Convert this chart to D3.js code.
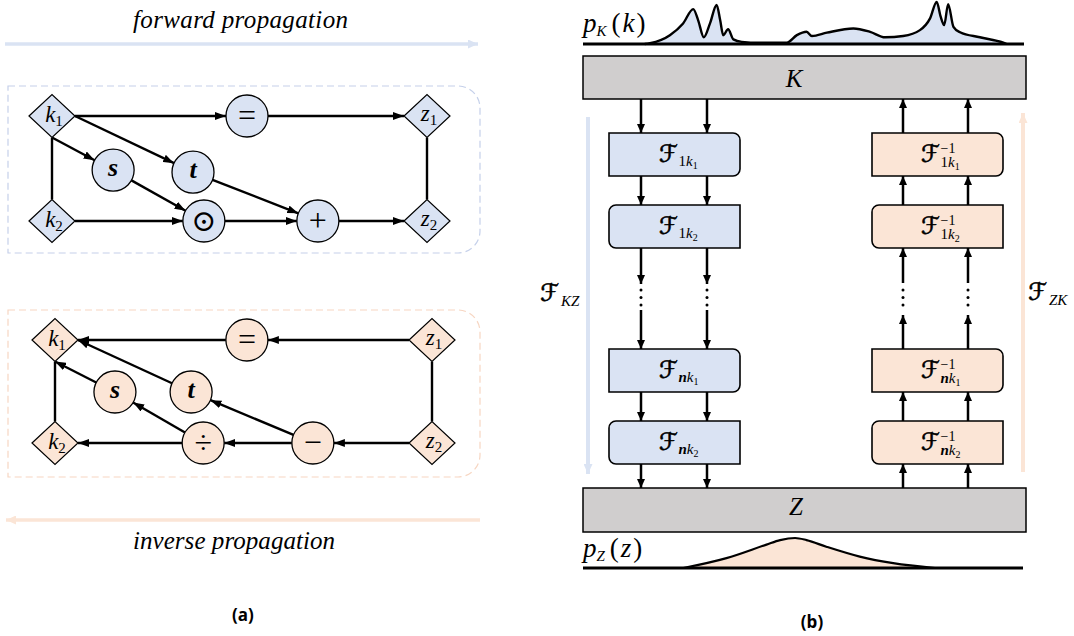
<!DOCTYPE html>
<html><head><meta charset="utf-8">
<script src="https://cdn.jsdelivr.net/npm/d3@7"></script>
<style>body{margin:0;background:#fff}svg{display:block}
.serif{font-family:"Liberation Serif","Times New Roman","DejaVu Serif","Noto Serif",serif}
.script{font-family:"DejaVu Serif","DejaVu Sans",serif}
.lbl{font-family:"Open Sans","Lato",sans-serif;font-weight:bold}
</style>
</head><body>
<svg id="c" width="1074" height="636"></svg>
<script>
// ---------------- data ----------------
const forwardNodes = [
  {id:"k1", shape:"diamond", txt:"k", sub:"1", gx:0, gy:0},
  {id:"k2", shape:"diamond", txt:"k", sub:"2", gx:0, gy:2},
  {id:"z1", shape:"diamond", txt:"z", sub:"1", gx:100, gy:0},
  {id:"z2", shape:"diamond", txt:"z", sub:"2", gx:100, gy:2},
  {id:"eq", shape:"circle", txt:"=", gx:52, gy:0},
  {id:"s", shape:"circle", txt:"s", italic:true, gx:16.3, gy:1.03},
  {id:"t", shape:"circle", txt:"t", italic:true, gx:37.6, gy:1.07},
  {id:"dot", shape:"circle", txt:"\u2299", gx:40.5, gy:2},
  {id:"plus", shape:"circle", txt:"+", gx:70.9, gy:2}
];
const forwardEdges = [
  ["k1","right","eq",null,true],["eq",null,"z1","left",true],
  ["k1","right","t",null,true],["k1","bottom","s",null,true],
  ["k1","bottom","k2","top",false],["s",null,"dot",null,true],
  ["t",null,"plus",null,true],["k2","right","dot",null,true],
  ["dot",null,"plus",null,true],["plus",null,"z2","left",true],
  ["z1","bottom","z2","top",false]
];
const inverseNodes = [
  {id:"k1", shape:"diamond", txt:"k", sub:"1", gx:0, gy:0},
  {id:"k2", shape:"diamond", txt:"k", sub:"2", gx:0, gy:2},
  {id:"z1", shape:"diamond", txt:"z", sub:"1", gx:100, gy:0},
  {id:"z2", shape:"diamond", txt:"z", sub:"2", gx:100, gy:2},
  {id:"eq", shape:"circle", txt:"=", gx:50.9, gy:0},
  {id:"s", shape:"circle", txt:"s", italic:true, gx:15.9, gy:1.01},
  {id:"t", shape:"circle", txt:"t", italic:true, gx:36.1, gy:1.01},
  {id:"div", shape:"circle", txt:"\u00F7", gx:39.3, gy:2},
  {id:"minus", shape:"circle", txt:"\u2212", gx:68.4, gy:2}
];
const inverseEdges = [
  ["z1","left","eq",null,true],["eq",null,"k1","right",true],
  ["t",null,"k1","right",true],["s",null,"k1","bottom",true],
  ["k1","bottom","k2","top",false],["minus",null,"t",null,true],
  ["div",null,"s",null,true],["z2","left","minus",null,true],
  ["minus",null,"div",null,true],["div",null,"k2","right",true],
  ["z1","bottom","z2","top",false]
];
// flow layers (panel b)
const layerIndex = [0, 1, 3, 4];
const layerStep  = ["1", "1", "n", "n"];
const layerHalf  = ["1", "2", "1", "2"];
// density p_K(k): k in [0,100], density in [0,1]
const pkK = [14, 15.2, 19.7, 22.7, 25.0, 26.1, 27.4, 28.8, 30.3, 31.1, 31.8, 32.9, 34.1, 36.0, 40, 46.2, 48.5, 50.7, 51.9, 55.3, 61.3, 65.1, 68.5, 72.6, 76.4, 78.7, 80.2, 81.1, 81.9, 82.8, 84.0, 85.5, 90.0, 95.3, 96];
const pkD = [0, 0.02, 0.21, 0.49, 0.83, 0.57, 0.16, 0.49, 0.93, 0.57, 0.21, 0.35, 0.11, 0.05, 0.03, 0.03, 0.21, 0.29, 0.19, 0.27, 0.37, 0.29, 0.16, 0.19, 0.33, 0.61, 1.0, 0.65, 0.45, 0.95, 0.41, 0.28, 0.16, 0.03, 0];
// density p_Z(z)
const pzZ = [22.8, 32.6, 41.7, 44.8, 48.2, 50.8, 55.3, 62.9, 70.5, 80];
const pzD = [0, 0.33, 0.78, 0.93, 1.0, 0.93, 0.71, 0.38, 0.16, 0];

// ---------------- style ----------------
const BLUE = "#dae3f3", PEACH = "#fbe5d6", GREY = "#d0cece";

const svg = d3.select("#c");
const defs = svg.append("defs");
function marker(id, color, len, wid){
  defs.append("marker").attr("id", id).attr("markerUnits","userSpaceOnUse")
    .attr("viewBox", `0 0 ${len} ${wid}`).attr("refX", len).attr("refY", wid/2)
    .attr("markerWidth", len).attr("markerHeight", wid).attr("orient","auto")
    .append("path").attr("d", `M0,0L${len},${wid/2}L0,${wid}Z`).attr("fill", color);
}
marker("ah", "#000", 11, 8);
marker("ahs", "#000", 9, 8);
marker("ahB", BLUE, 10, 9);
marker("ahP", PEACH, 10, 9);

function line(g, x1, y1, x2, y2, opts){
  return g.append("path").attr("d", `M${x1},${y1}L${x2},${y2}`)
    .attr("stroke", opts.color || "#000").attr("stroke-width", opts.w || 2)
    .attr("fill","none").attr("marker-end", opts.marker ? `url(#${opts.marker})` : null);
}

// ---------------- panel (a) ----------------
function graph(nodes, edges, sx, sy, fill, dashColor, box){
  const g = svg.append("g");
  const A = 23, B = 21.5, R = 21;
  const [x0,y0,x1,y1] = box, r = 22;
  g.append("path").attr("d", `M${x0},${y0}H${x1-r}A${r},${r} 0 0 1 ${x1},${y0+r}V${y1-r}A${r},${r} 0 0 1 ${x1-r},${y1}H${x0}Z`)
    .attr("fill","none").attr("stroke", dashColor).attr("stroke-width",1.2).attr("stroke-dasharray","7,4");
  const byId = {};
  nodes.forEach(n => { n.x = sx(n.gx); n.y = sy(n.gy); byId[n.id] = n; });
  function port(n, p){
    if (p === "right") return [n.x + A, n.y];
    if (p === "left") return [n.x - A, n.y];
    if (p === "top") return [n.x, n.y - B];
    if (p === "bottom") return [n.x, n.y + B];
    return null;
  }
  edges.forEach(([s, sp, t, tp, arrow]) => {
    const a = byId[s], b = byId[t];
    let p1 = port(a, sp), p2 = port(b, tp);
    const c1 = p1 || [a.x, a.y], c2 = p2 || [b.x, b.y];
    if (!p1) { const dx = c2[0]-a.x, dy = c2[1]-a.y, L = Math.hypot(dx,dy); p1 = [a.x + dx/L*R, a.y + dy/L*R]; }
    if (!p2) { const dx = c1[0]-b.x, dy = c1[1]-b.y, L = Math.hypot(dx,dy); p2 = [b.x + dx/L*R, b.y + dy/L*R]; }
    line(g, p1[0], p1[1], p2[0], p2[1], {w: 2.4, marker: arrow ? "ah" : null});
  });
  const ng = g.selectAll("g.node").data(nodes).join("g").attr("transform", d => `translate(${d.x},${d.y})`);
  ng.filter(d => d.shape === "diamond").append("path")
    .attr("d", `M${-A},0L0,${-B}L${A},0L0,${B}Z`).attr("fill", fill).attr("stroke","#000").attr("stroke-width",1.2);
  ng.filter(d => d.shape === "circle").append("circle").attr("r", R)
    .attr("fill", fill).attr("stroke","#000").attr("stroke-width",1.3);
  ng.filter(d => d.shape === "diamond").append("text").attr("class","serif")
    .attr("text-anchor","middle").attr("y", d => d.txt === "k" ? 6 : 5).attr("x", 2)
    .style("font-size","23px")
    .call(t => { t.append("tspan").style("font-style","italic").text(d => d.txt);
                 t.append("tspan").style("font-size","15px").attr("dy", 4).text(d => d.sub); });
  ng.filter(d => d.shape === "circle").append("text")
    .attr("class", d => d.txt === "\u2299" ? "script" : "serif")
    .attr("text-anchor","middle")
    .attr("y", d => d.txt === "\u2299" ? 10 : (d.italic ? 6 : 10))
    .style("font-size", d => d.txt === "\u2299" ? "30px" : (d.italic ? "26px" : "32px"))
    .style("font-weight", d => d.italic ? "bold" : "normal")
    .style("font-style", d => d.italic ? "italic" : "normal")
    .text(d => d.txt);
  return g;
}

graph(forwardNodes, forwardEdges,
  d3.scaleLinear().domain([0,100]).range([52,427]),
  d3.scaleLinear().domain([0,2]).range([116,221]),
  BLUE, "#c5d0ea", [8, 86, 480, 253]);
graph(inverseNodes, inverseEdges,
  d3.scaleLinear().domain([0,100]).range([55,432]),
  d3.scaleLinear().domain([0,2]).range([340,443]),
  PEACH, "#f7d6c2", [8, 310, 480, 477]);

// propagation arrows + labels
line(svg, 5, 44, 478, 44, {color: BLUE, w: 3.5, marker: "ahB"});
line(svg, 480, 520, 6, 520, {color: PEACH, w: 3.5, marker: "ahP"});
svg.append("text").attr("class","serif").attr("x", 133).attr("y", 28).attr("textLength", 215).attr("lengthAdjust","spacing")
  .style("font-style","italic").style("font-size","25px").text("forward propagation");
svg.append("text").attr("class","serif").attr("x", 133).attr("y", 549).attr("textLength", 202).attr("lengthAdjust","spacing")
  .style("font-style","italic").style("font-size","25px").text("inverse propagation");
svg.append("text").attr("class","lbl").attr("x", 243).attr("y", 621).attr("text-anchor","middle")
  .style("font-size","17px").text("(a)");

// ---------------- panel (b) ----------------
const pb = svg.append("g");
const xk = d3.scaleLinear().domain([0,100]).range([583,1024]);
const yk = d3.scaleLinear().domain([0,1]).range([44,2]);
const pk = pkK.map((k,i) => [k, pkD[i]]);
pb.append("path").datum(pk)
  .attr("d", d3.area().x(d => xk(d[0])).y0(yk(0)).y1(d => yk(d[1])).curve(d3.curveMonotoneX))
  .attr("fill", BLUE);
pb.append("path").datum(pk)
  .attr("d", d3.line().x(d => xk(d[0])).y(d => yk(d[1])).curve(d3.curveMonotoneX))
  .attr("fill","none").attr("stroke","#000").attr("stroke-width",2.4);
line(pb, xk(0), yk(0), xk(100), yk(0), {w: 3});

const xz = d3.scaleLinear().domain([0,100]).range([583,1023]);
const yz = d3.scaleLinear().domain([0,1]).range([568,538]);
const pz = pzZ.map((z,i) => [z, pzD[i]]);
pb.append("path").datum(pz)
  .attr("d", d3.area().x(d => xz(d[0])).y0(yz(0)).y1(d => yz(d[1])).curve(d3.curveMonotoneX))
  .attr("fill", PEACH);
pb.append("path").datum(pz)
  .attr("d", d3.line().x(d => xz(d[0])).y(d => yz(d[1])).curve(d3.curveMonotoneX))
  .attr("fill","none").attr("stroke","#000").attr("stroke-width",2.2);
line(pb, xz(0), yz(0), xz(100), yz(0), {w: 3});

function pLabel(x, y, cap, low){
  const t = pb.append("text").attr("class","serif").attr("x", x).attr("y", y).style("font-size","27px");
  t.append("tspan").style("font-style","italic").text("p");
  t.append("tspan").style("font-style","italic").style("font-size","15px").attr("dy", 4).text(cap);
  t.append("tspan").attr("dy", -4).attr("dx", 5).text("(");
  t.append("tspan").style("font-style","italic").attr("dx", 2).text(low);
  t.append("tspan").attr("dx", 2).text(")");
}
pLabel(583, 32, "K", "k");
pLabel(583, 557, "Z", "z");

pb.append("rect").attr("x",583).attr("y",56).attr("width",443).attr("height",43)
  .attr("fill",GREY).attr("stroke","#000").attr("stroke-width",1.5);
pb.append("text").attr("class","serif").attr("x",794).attr("y",87).attr("text-anchor","middle")
  .style("font-style","italic").style("font-size","25px").text("K");
pb.append("rect").attr("x",583).attr("y",488).attr("width",443).attr("height",44)
  .attr("fill",GREY).attr("stroke","#000").attr("stroke-width",1.5);
pb.append("text").attr("class","serif").attr("x",796).attr("y",515).attr("text-anchor","middle")
  .style("font-style","italic").style("font-size","25px").text("Z");

line(pb, 588, 117, 588, 474, {color: BLUE, w: 4, marker: "ahB"});
line(pb, 1023, 472, 1023, 113, {color: PEACH, w: 4, marker: "ahP"});
function fLabel(x, y, sub){
  const t = pb.append("text").attr("x", x).attr("y", y);
  t.append("tspan").attr("class","script").style("font-style","italic").style("font-size","24px")
    .attr("stroke","#000").attr("stroke-width",0.6).text("\u2131");
  t.append("tspan").attr("class","serif").style("font-style","italic").style("font-size","15px").attr("dy", 5).attr("dx", 2).text(sub);
}
fLabel(540, 301, "KZ");
fLabel(1028, 300, "ZK");

const yl = d3.scaleLinear().domain([0,4]).range([133,421]);
const BW = 131, BH = 43, BR = 7;
function boxPath(x, y, w, h, rad){
  const [tl,tr,br,bl] = rad;
  return `M${x+tl},${y}H${x+w-tr}` + (tr ? `A${tr},${tr} 0 0 1 ${x+w},${y+tr}` : "") +
    `V${y+h-br}` + (br ? `A${br},${br} 0 0 1 ${x+w-br},${y+h}` : "") +
    `H${x+bl}` + (bl ? `A${bl},${bl} 0 0 1 ${x},${y+h-bl}` : "") +
    `V${y+tl}` + (tl ? `A${tl},${tl} 0 0 1 ${x+tl},${y}` : "") + "Z";
}
const colsL = [641, 707], colsR = [903, 968];
layerIndex.forEach((li, i) => {
  const y = yl(li);
  const rad = layerHalf[i] === "1" ? [0,BR,BR,0] : [BR,0,0,BR];
  [[609, BLUE, false], [872, PEACH, true]].forEach(([x, col, inv]) => {
    pb.append("path").attr("d", boxPath(x, y, BW, BH, rad)).attr("fill", col).attr("stroke","#000").attr("stroke-width",1.6);
    const cx = x + BW/2, cy = y + BH/2;
    pb.append("text").attr("class","script").attr("x", cx + (inv ? 2 : 3)).attr("y", cy + 7).attr("text-anchor","end")
      .style("font-style","italic").style("font-size","24px").attr("stroke","#000").attr("stroke-width",0.6).text("\u2131");
    const sb = pb.append("text").attr("class","serif").attr("x", cx + (inv ? 3 : 4)).attr("y", cy + (inv ? 12 : 11))
      .style("font-size","15px");
    sb.append("tspan").style("font-style", layerStep[i] === "n" ? "italic" : "normal")
      .style("font-weight", layerStep[i] === "n" ? "bold" : "normal").text(layerStep[i]);
    sb.append("tspan").style("font-style","italic").text("k");
    sb.append("tspan").style("font-size","10px").attr("dy", 3).text(layerHalf[i]);
    if (inv) pb.append("text").attr("class","serif").attr("x", cx + 3).attr("y", cy - 2).style("font-size","14px").text("\u22121");
  });
});

const rows = layerIndex.map(li => [yl(li), yl(li) + BH]);
const AW = 2.5;
colsL.forEach(x => {
  line(pb, x, 99, x, rows[0][0], {w: AW, marker: "ahs"});
  line(pb, x, rows[0][1], x, rows[1][0], {w: AW, marker: "ahs"});
  line(pb, x, rows[1][1], x, 284, {w: AW, marker: "ahs"});
  [290, 297.5, 305].forEach(y => pb.append("circle").attr("cx", x).attr("cy", y).attr("r", 1.5));
  line(pb, x, 310, x, rows[2][0], {w: AW, marker: "ahs"});
  line(pb, x, rows[2][1], x, rows[3][0], {w: AW, marker: "ahs"});
  line(pb, x, rows[3][1], x, 488, {w: AW, marker: "ahs"});
});
colsR.forEach(x => {
  line(pb, x, 488, x, rows[3][1], {w: AW, marker: "ahs"});
  line(pb, x, rows[3][0], x, rows[2][1], {w: AW, marker: "ahs"});
  line(pb, x, rows[2][0], x, 315, {w: AW, marker: "ahs"});
  [290, 297.5, 305].forEach(y => pb.append("circle").attr("cx", x).attr("cy", y).attr("r", 1.5));
  line(pb, x, 283, x, rows[1][1], {w: AW, marker: "ahs"});
  line(pb, x, rows[1][0], x, rows[0][1], {w: AW, marker: "ahs"});
  line(pb, x, rows[0][0], x, 99, {w: AW, marker: "ahs"});
});

svg.append("text").attr("class","lbl").attr("x", 812).attr("y", 628).attr("text-anchor","middle")
  .style("font-size","17px").text("(b)");
</script>
</body></html>
